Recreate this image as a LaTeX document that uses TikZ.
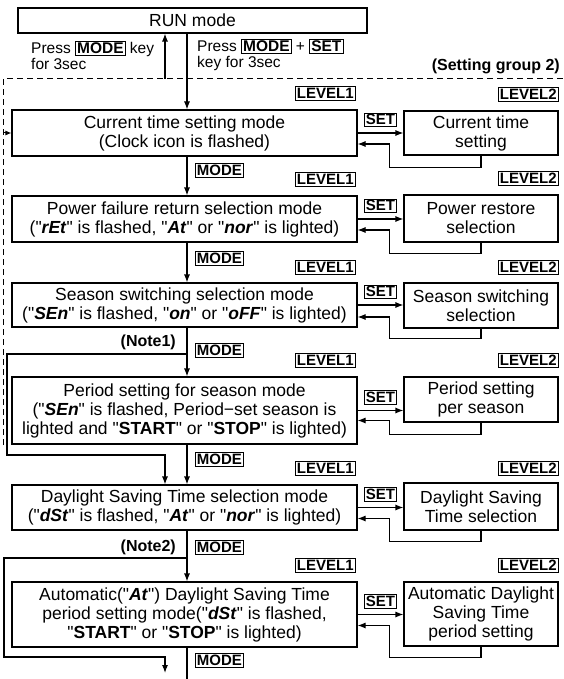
\documentclass[tikz,border=0pt]{standalone}
\usepackage{fontspec}
\setmainfont{Liberation Sans}[Ligatures=TeXOff]
\usetikzlibrary{arrows.meta,positioning,calc}
\newcommand{\seg}[1]{\textbf{\textit{#1}}}
\newcommand{\keyb}[1]{{\setlength{\fboxsep}{1.2pt}\setlength{\fboxrule}{0.8pt}\fbox{\textbf{#1}}}}

\begin{document}
\begin{tikzpicture}[x=1pt, y=-1pt,
                every node/.style = {font=\fontsize{17.5}{19}\selectfont},
                lvlone/.style = {draw, line width=1.1pt, minimum width=345pt, align=center, inner sep=1pt},
                lvltwo/.style = {draw, line width=1.1pt, minimum width=154pt, align=center, inner sep=1pt},
                keybox/.style = {draw, line width=0.8pt, inner sep=1.5pt, font=\fontsize{15}{15}\selectfont\bfseries},
                note/.style = {anchor=east, inner sep=0pt, font=\fontsize{16}{16}\selectfont\bfseries},
                flow/.style = {line width=1.1pt, -{Latex[length=8pt,width=6pt]}},
                grp/.style = {line width=1pt, dash pattern=on 6pt off 4pt}
                ]
                \useasboundingbox (0,0) rectangle (564,679);
                \coordinate (col) at (187,0);

                % run mode and the way in
                \node[draw, line width=1.1pt, minimum width=349pt, minimum height=25pt] (run) at (192.5,20.5) {RUN mode};
                \node[anchor=west, align=left, inner sep=0pt, font=\fontsize{15.5}{16}\selectfont] (pressa) at (31,55) {Press \keyb{MODE} key\\for 3sec};
                \node[anchor=west, align=left, inner sep=0pt, font=\fontsize{15.5}{16}\selectfont] (pressb) at (197,55) {Press \keyb{MODE} + \keyb{SET}\\key for 3sec};
                \node[note] (group) at (560,66) {(Setting group 2)};

                % level 1
                \node[lvlone, minimum height=46pt] (cur) at (184.5,133) {Current time setting mode\\(Clock icon is flashed)};
                \node[lvlone, minimum height=46pt] (pwr) at (184.5,219) {Power failure return selection mode\\("\seg{rEt}" is flashed, "\seg{At}" or "\seg{nor}" is lighted)};
                \node[lvlone, minimum height=44pt] (ssn) at (184.5,305) {Season switching selection mode\\("\seg{SEn}" is flashed, "\seg{on}" or "\seg{oFF}" is lighted)};
                \node[lvlone, minimum height=67pt] (per) at (184.5,410.5) {Period setting for season mode\\("\seg{SEn}" is flashed, Period−set season is\\lighted and "\textbf{START}" or "\textbf{STOP}" is lighted)};
                \node[lvlone, minimum height=45pt] (dst) at (184.5,507.5) {Daylight Saving Time selection mode\\("\seg{dSt}" is flashed, "\seg{At}" or "\seg{nor}" is lighted)};
                \node[lvlone, minimum height=65pt] (aut) at (184.5,614.5) {Automatic("\seg{At}") Daylight Saving Time\\period setting mode("\seg{dSt}" is flashed,\\"\textbf{START}" or "\textbf{STOP}" is lighted)};

                % level 2
                \node[lvltwo, minimum height=44pt] (curset) at (481,133) {Current time\\setting};
                \node[lvltwo, minimum height=47pt] (pwrset) at (481,218.5) {Power restore\\selection};
                \node[lvltwo, minimum height=45pt] (ssnset) at (481,305.5) {Season switching\\selection};
                \node[lvltwo, minimum height=45pt] (perset) at (481,399.5) {Period setting\\per season};
                \node[lvltwo, minimum height=47pt] (dstset) at (481,506.5) {Daylight Saving\\Time selection};
                \node[lvltwo, minimum height=64pt] (autset) at (481,614) {Automatic Daylight\\Saving Time\\period setting};

                % level tags
                \node[keybox, above left=9pt and 2pt of cur.north east] (curlv) {LEVEL1};
                \node[keybox, above left=9pt and 0pt of curset.north east] (cursetlv) {LEVEL2};
                \node[keybox, above left=9pt and 2pt of pwr.north east] (pwrlv) {LEVEL1};
                \node[keybox, above left=9pt and 0pt of pwrset.north east] (pwrsetlv) {LEVEL2};
                \node[keybox, above left=8pt and 2pt of ssn.north east] (ssnlv) {LEVEL1};
                \node[keybox, above left=8pt and 0pt of ssnset.north east] (ssnsetlv) {LEVEL2};
                \node[keybox, above left=9pt and 2pt of per.north east] (perlv) {LEVEL1};
                \node[keybox, above left=9pt and 0pt of perset.north east] (persetlv) {LEVEL2};
                \node[keybox, above left=9pt and 2pt of dst.north east] (dstlv) {LEVEL1};
                \node[keybox, above left=7pt and 0pt of dstset.north east] (dstsetlv) {LEVEL2};
                \node[keybox, above left=9pt and 2pt of aut.north east] (autlv) {LEVEL1};
                \node[keybox, above left=9pt and 0pt of autset.north east] (autsetlv) {LEVEL2};

                % group frame
                \coordinate (back) at (3,133);
                \coordinate (up) at (165,79);
                \draw[grp] (3,445) -- (3,79) -- (564,79);
                \draw[line width=1pt, -{Latex[length=6pt,width=5pt]}] (back) -- (cur.west);
                \draw[flow] (run.south -| col) -- (cur.north -| col);
                \draw[flow] (up) -- (up |- run.south);

                % mode steps
                \draw[flow] (cur.south -| col) -- (pwr.north -| col);
                \draw[flow] (pwr.south -| col) -- (ssn.north -| col);
                \draw[flow] (ssn.south -| col) -- (per.north -| col);
                \draw[flow] (per.south -| col) -- (dst.north -| col);
                \draw[flow] (dst.south -| col) -- (aut.north -| col);
                \coordinate (out) at (187,679);
                \draw[line width=1.1pt] (aut.south -| col) -- (out);
                \node[keybox, anchor=west] (mode1) at ($(cur.south -| col)+(8,14)$) {MODE};
                \node[keybox, anchor=west] (mode2) at ($(pwr.south -| col)+(8,16)$) {MODE};
                \node[keybox, anchor=west] (mode3) at ($(ssn.south -| col)+(8,23)$) {MODE};
                \node[keybox, anchor=west] (mode4) at ($(per.south -| col)+(8,15)$) {MODE};
                \node[keybox, anchor=west] (mode5) at ($(dst.south -| col)+(8,17)$) {MODE};
                \node[keybox, anchor=west] (mode6) at ($(aut.south -| col)+(8,13)$) {MODE};

                % notes
                \node[note] (note1) at (176,342) {(Note1)};
                \node[note] (note2) at (176,547) {(Note2)};
                \coordinate (n1) at (187,354);
                \coordinate (n2) at (187,558);
                \coordinate (end) at (165,673);
                \draw[flow] (n1) -| (7,455) -| ($(dst.north -| col)+(-22,0)$);
                \draw[flow] (n2) -| (4,657) -| (end);

                % set and return
                \draw[flow] (cur.east) -- (cur.east -| curset.west);
                \draw[flow] (pwr.east) -- (pwr.east -| pwrset.west);
                \draw[flow] (ssn.east) -- (ssn.east -| ssnset.west);
                \draw[flow] (per.east) -- (per.east -| perset.west);
                \draw[flow] (dst.east) -- (dst.east -| dstset.west);
                \draw[flow] (aut.east) -- (aut.east -| autset.west);
                \node[keybox, above=6pt] (set1) at ($(cur.east)!0.5!(cur.east -| curset.west)$) {SET};
                \node[keybox, above=6pt] (set2) at ($(pwr.east)!0.5!(pwr.east -| pwrset.west)$) {SET};
                \node[keybox, above=6pt] (set3) at ($(ssn.east)!0.5!(ssn.east -| ssnset.west)$) {SET};
                \node[keybox, above=6pt] (set4) at ($(per.east)!0.5!(per.east -| perset.west)$) {SET};
                \node[keybox, above=6pt] (set5) at ($(dst.east)!0.5!(dst.east -| dstset.west)$) {SET};
                \node[keybox, above=6pt] (set6) at ($(aut.east)!0.5!(aut.east -| autset.west)$) {SET};
                \draw[flow] (curset.south) -- ++(0,12) -| ($(cur.east)+(32,11)$) -- ($(cur.east)+(0,11)$);
                \draw[flow] (pwrset.south) -- ++(0,11) -| ($(pwr.east)+(32,11)$) -- ($(pwr.east)+(0,11)$);
                \draw[flow] (ssnset.south) -- ++(0,10) -| ($(ssn.east)+(32,12)$) -- ($(ssn.east)+(0,12)$);
                \draw[flow] (perset.south) -- ++(0,12) -| ($(per.east)+(32,10)$) -- ($(per.east)+(0,10)$);
                \draw[flow] (dstset.south) -- ++(0,11) -| ($(dst.east)+(32,11)$) -- ($(dst.east)+(0,11)$);
                \draw[flow] (autset.south) -- ++(0,11) -| ($(aut.east)+(32,11)$) -- ($(aut.east)+(0,11)$);
            \end{tikzpicture}
\end{document}
